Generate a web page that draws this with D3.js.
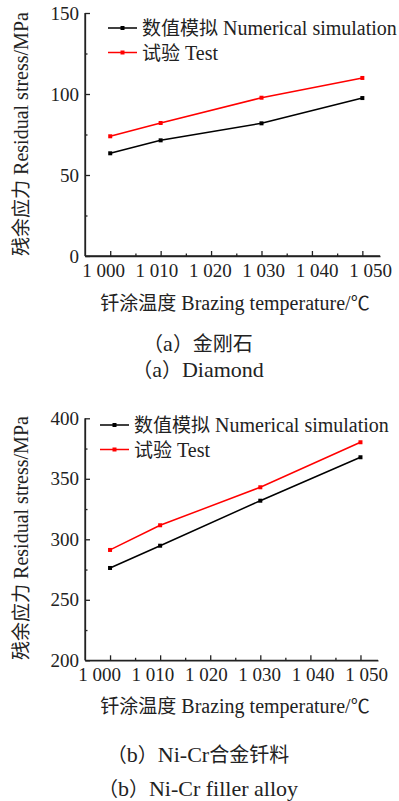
<!DOCTYPE html>
<html>
<head>
<meta charset="utf-8">
<script src="https://cdn.jsdelivr.net/npm/d3@7"></script>
<style>
  body { margin: 0; background: #fff; }
  svg text { fill: #222; }
  .axis path, .axis line { stroke: #222; stroke-width: 1.3; }
</style>
</head>
<body>
<div id="chart"></div>
<script>
const temps = [1000, 1010, 1030, 1050];
const diamondSim = [63.4, 71.4, 81.9, 97.5];
const diamondTest = [73.9, 82.1, 97.7, 109.9];
const nicrSim = [276.3, 294.7, 331.9, 367.8];
const nicrTest = [291.2, 311.6, 343.0, 380.2];

const xTicks = [1000, 1010, 1020, 1030, 1040, 1050];
const xMinor = [1005, 1015, 1025, 1035, 1045];
const yTicksA = [0, 50, 100, 150];
const yMinorA = [25, 75, 125];
const yTicksB = [200, 250, 300, 350, 400];
const yMinorB = [225, 275, 325, 375];

const seriesNames = ['数值模拟 Numerical simulation', '试验 Test'];
const seriesColors = ['#000', '#f00'];
const yTitle = '残余应力 Residual stress/MPa';
const xTitle = '钎涂温度 Brazing temperature/℃';

const LATIN = "'Liberation Serif', 'Times New Roman', serif";
const CJK = "'Noto Sans CJK SC', sans-serif";
const CJK_RE = /[\u3000-\u303f\u4e00-\u9fff\uff00-\uffef\u2103]/;

const svg = d3.select('#chart').append('svg').attr('width', 399).attr('height', 801);

const fmtTemp = d => '1 ' + String(d).slice(1);

// split mixed text into CJK / latin runs so each gets its own font
function richText(sel, str, latinSize, cjkSize) {
  const parts = str.match(/[\u3000-\u303f\u4e00-\u9fff\uff00-\uffef\u2103]+|[^\u3000-\u303f\u4e00-\u9fff\uff00-\uffef\u2103]+/g);
  parts.forEach(p => {
    const cjk = CJK_RE.test(p);
    sel.append('tspan').attr('font-family', cjk ? CJK : LATIN)
      .attr('font-size', cjk ? cjkSize : latinSize).text(p);
  });
  return sel;
}

function drawPanel(opt) {
  const x = d3.scaleLinear().domain([995, 1053.5]).range([85, opt.xRight]);
  const xLab = d3.scaleLinear().domain([1000, 1050]).range(opt.labRange);
  const y = d3.scaleLinear().domain(opt.yDomain).range([opt.bottom, opt.top]);

  // minor ticks
  svg.append('g').attr('class', 'axis').attr('transform', `translate(0,${opt.bottom})`)
    .call(d3.axisBottom(x).tickValues(xMinor).tickSize(-2.5).tickSizeOuter(0).tickFormat(''));
  svg.append('g').attr('class', 'axis').attr('transform', 'translate(85,0)')
    .call(d3.axisLeft(y).tickValues(opt.yMinor).tickSize(-2.5).tickSizeOuter(0).tickFormat(''));

  // major ticks
  const xa = svg.append('g').attr('class', 'axis').attr('transform', `translate(0,${opt.bottom})`)
    .call(d3.axisBottom(x).tickValues(xTicks).tickSize(-5).tickSizeOuter(0).tickFormat(''));
  xa.select('.domain').attr('d', `M85,0H${opt.xRight}`);
  // x tick labels
  const xl = svg.append('g').attr('transform', `translate(0,${opt.bottom})`)
    .call(d3.axisBottom(xLab).tickValues(xTicks).tickSize(0).tickPadding(opt.xPad).tickFormat(fmtTemp));
  xl.select('.domain').remove();
  xl.attr('font-family', LATIN).attr('font-size', 19);
  xl.selectAll('text').attr('fill', '#222');

  const ya = svg.append('g').attr('class', 'axis').attr('transform', 'translate(85,0)')
    .call(d3.axisLeft(y).tickValues(opt.yTicks).tickSize(-5).tickSizeOuter(0).tickPadding(6));
  ya.attr('font-family', LATIN).attr('font-size', 19);
  ya.select('.domain').attr('d', `M0,${opt.bottom}V${opt.top}`);

  const line = d3.line().x(d => x(d[0])).y(d => y(d[1]));
  [opt.sim, opt.test].forEach((vals, i) => {
    const pts = temps.map((t, j) => [t, vals[j]]);
    svg.append('path').datum(pts).attr('d', line)
      .attr('fill', 'none').attr('stroke', seriesColors[i]).attr('stroke-width', 1.5);
    svg.selectAll(null).data(pts).enter().append('rect')
      .attr('x', d => x(d[0]) - 2).attr('y', d => y(d[1]) - 2)
      .attr('width', 4).attr('height', 4).attr('fill', seriesColors[i]);
  });

  // legend
  seriesNames.forEach((name, i) => {
    const ly = opt.legendY + i * 24.5;
    svg.append('line').attr('x1', opt.legendX).attr('x2', opt.legendX + 29)
      .attr('y1', ly).attr('y2', ly).attr('stroke', seriesColors[i]).attr('stroke-width', 1.5);
    svg.append('rect').attr('x', opt.legendX + 12.5).attr('y', ly - 2).attr('width', 4).attr('height', 4)
      .attr('fill', seriesColors[i]);
    richText(svg.append('text').attr('x', opt.legendX + 34).attr('y', ly + 7), name, 20, 19);
  });

  richText(svg.append('text').attr('transform', `translate(28,${opt.yTitleY}) rotate(-90)`)
    .attr('text-anchor', 'middle'), yTitle, 20, 19);
  richText(svg.append('text').attr('x', 235).attr('y', opt.xTitleY)
    .attr('text-anchor', 'middle'), xTitle, 20, 19);
  opt.captions.forEach((c, i) => {
    richText(svg.append('text').attr('x', 198).attr('y', opt.capY[i])
      .attr('text-anchor', 'middle'), c, 22, 20);
  });
}

drawPanel({
  yDomain: [0, 150], top: 13, bottom: 256, xRight: 380, labRange: [103, 370], xPad: 8,
  yTicks: yTicksA, yMinor: yMinorA, sim: diamondSim, test: diamondTest,
  legendX: 108, legendY: 28, yTitleY: 134, xTitleY: 310,
  captions: ['（a）金刚石', '（a）Diamond'], capY: [351, 377]
});

drawPanel({
  yDomain: [200, 400], top: 418.3, bottom: 660.3, xRight: 378, labRange: [99, 366], xPad: 7,
  yTicks: yTicksB, yMinor: yMinorB, sim: nicrSim, test: nicrTest,
  legendX: 100, legendY: 425, yTitleY: 538, xTitleY: 713,
  captions: ['（b）Ni-Cr合金钎料', '（b）Ni-Cr filler alloy'], capY: [762, 796]
});
</script>
</body>
</html>
